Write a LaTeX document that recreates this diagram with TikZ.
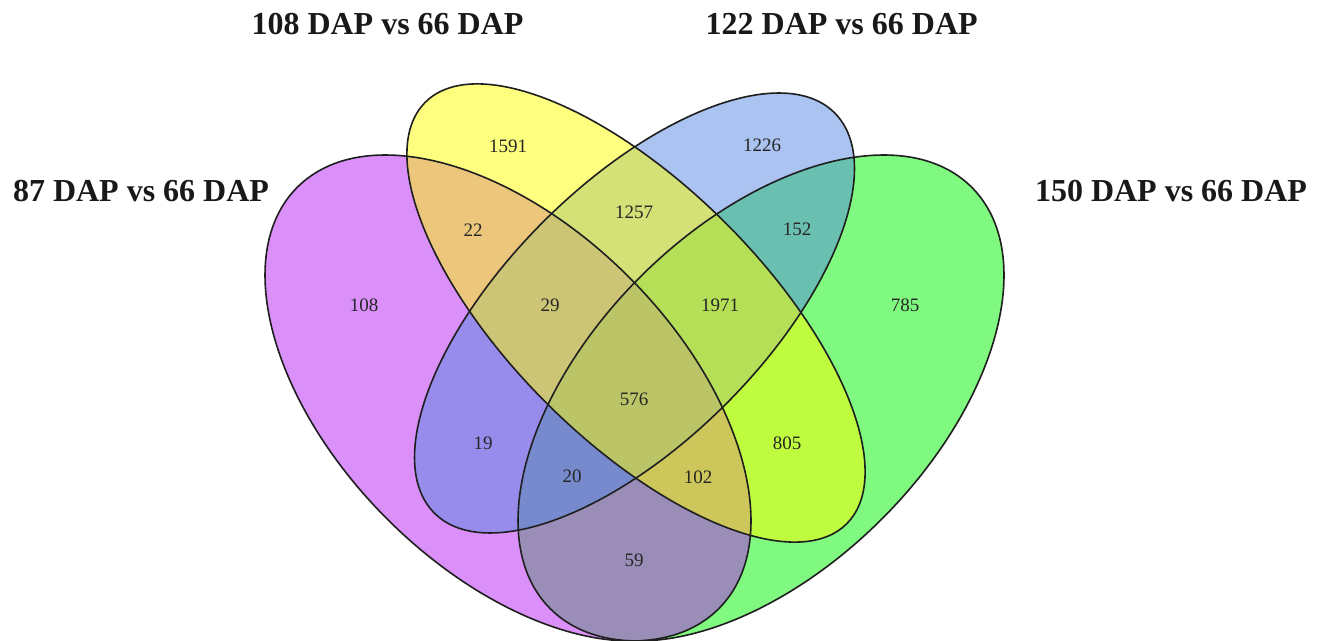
\documentclass[tikz,border=0pt]{standalone}
\usepackage{fontspec}
\setmainfont{Liberation Serif}
\definecolor{cA}{RGB}{182,35,242}
\definecolor{cB}{RGB}{255,255,0}
\definecolor{cC}{RGB}{86,136,226}
\definecolor{cD}{RGB}{0,245,0}
\tikzset{
  setfill/.style={fill=#1, fill opacity=0.5, draw=none},
  setline/.style={draw=black!88, line width=1.6pt},
  num/.style={inner sep=0pt, text=black!85, font=\fontsize{19}{19}\selectfont},
  title/.style={inner sep=0pt, anchor=base, text=black!90, font=\fontsize{32}{32}\selectfont\bfseries},
}
\begin{document}
\begin{tikzpicture}[x=1pt,y=1pt]
\useasboundingbox[fill=white] (0,0) rectangle (1328,640);
% centres (y = 640 - pixel y)
\coordinate (cenA) at (508,242);
\coordinate (cenB) at (636,327);
\coordinate (cenC) at (634.5,327);
\coordinate (cenD) at (761,242);
% fills, drawn in the order D, A, C, B
\path[setfill=cD, rotate around={45:(cenD)}] (cenD) ellipse [x radius=298pt, y radius=171pt];
\path[setfill=cA, rotate around={-45:(cenA)}] (cenA) ellipse [x radius=298pt, y radius=171pt];
\path[setfill=cC, rotate around={45:(cenC)}] (cenC) ellipse [x radius=283pt, y radius=129pt];
\path[setfill=cB, rotate around={-45:(cenB)}] (cenB) ellipse [x radius=298pt, y radius=127pt];
% outlines
\draw[setline, rotate around={45:(cenD)}] (cenD) ellipse [x radius=298pt, y radius=171pt];
\draw[setline, rotate around={-45:(cenA)}] (cenA) ellipse [x radius=298pt, y radius=171pt];
\draw[setline, rotate around={45:(cenC)}] (cenC) ellipse [x radius=283pt, y radius=129pt];
\draw[setline, rotate around={-45:(cenB)}] (cenB) ellipse [x radius=298pt, y radius=127pt];
% region counts
\node[num] (n1591) at (508,494) {1591};
\node[num] (n1226) at (762,495) {1226};
\node[num] (n22)   at (473,410) {22};
\node[num] (n1257) at (634,428) {1257};
\node[num] (n152)  at (797,411) {152};
\node[num] (n108)  at (364,335) {108};
\node[num] (n29)   at (550,335) {29};
\node[num] (n1971) at (720,335) {1971};
\node[num] (n785)  at (905,335) {785};
\node[num] (n576)  at (634,241) {576};
\node[num] (n19)   at (483,197) {19};
\node[num] (n805)  at (787,197) {805};
\node[num] (n20)   at (572,164) {20};
\node[num] (n102)  at (698,163) {102};
\node[num] (n59)   at (634,80)  {59};
% set titles
\node[title] (t108) at (387.5,605.7) {108 DAP vs 66 DAP};
\node[title] (t122) at (841.7,605.7) {122 DAP vs 66 DAP};
\node[title] (t87)  at (141,438.3) {87 DAP vs 66 DAP};
\node[title] (t150) at (1171,438.3) {150 DAP vs 66 DAP};
\end{tikzpicture}
\end{document}
